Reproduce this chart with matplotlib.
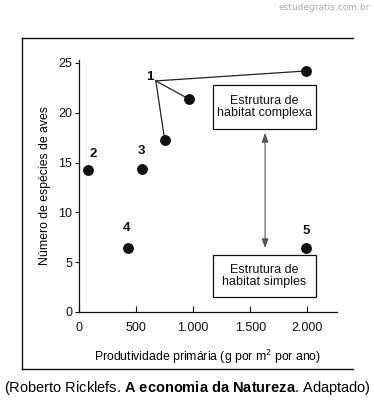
import matplotlib
matplotlib.use("Agg")
import matplotlib.pyplot as plt
from matplotlib.lines import Line2D
from matplotlib.patches import Rectangle

plt.rcParams['font.family'] = ['Liberation Sans', 'DejaVu Sans']
plt.rcParams['mathtext.fontset'] = 'custom'
plt.rcParams['mathtext.rm'] = 'Liberation Sans'
plt.rcParams['mathtext.bf'] = 'Liberation Sans:bold'
plt.rcParams['mathtext.it'] = 'Liberation Sans:italic'

# Data
prod = [1990, 960, 750, 76, 548, 425, 1985]
species = [24.2, 21.4, 17.3, 14.3, 14.35, 6.4, 6.45]
labels = ['1', '2', '3', '4', '5']
label_pos_x = [620, 123, 544, 420, 1990]
label_pos_y = [23.6, 15.3, 15.6, 7.8, 7.5]
vertex = (673, 23.2)
group1_idx = [0, 1, 2]
xticks = [0, 500, 1000, 1500, 2000]
xticklabels = ['0', '500', '1.000', '1.500', '2.000']
yticks = [0, 5, 10, 15, 20, 25]

fig = plt.figure(figsize=(3.74, 4.05), dpi=100)
ax = fig.add_axes([79/374, 1-312/405, (337-79)/374, (312-60)/405])
ax.set_xlim(0, 2260)
ax.set_ylim(0, 25.3)

for i in group1_idx:
    ax.plot([vertex[0], prod[i]], [vertex[1], species[i]], color='#222222', lw=0.9, zorder=2)
ax.plot(prod, species, 'o', color='#111111', ms=6.8, zorder=3, clip_on=False)

for t, x, y in zip(labels, label_pos_x, label_pos_y):
    ax.text(x, y, t, fontsize=9.5, fontweight='bold', ha='center',
            va='bottom' if t != '1' else 'center', color='#111111')

# boxes
def box(x0, x1, y0, y1, text):
    ax.add_patch(Rectangle((x0, y0), x1 - x0, y1 - y0, fc='white', ec='#111111', lw=0.9, zorder=4))
    ax.text((x0 + x1) / 2, (y0 + y1) / 2, text, ha='center', va='center', fontsize=9,
            linespacing=1.05, zorder=5, color='#111111')

box(1175, 2075, 18.4, 22.8, 'Estrutura de\nhabitat complexa')
box(1175, 2075, 1.5, 5.75, 'Estrutura de\nhabitat simples')
ax.annotate('', xy=(1630, 18.0), xytext=(1630, 6.4),
            arrowprops=dict(arrowstyle='<|-|>,head_length=0.7,head_width=0.25', color='#555555', lw=0.8,
                            mutation_scale=8, shrinkA=0, shrinkB=0))

for s in ['top', 'right']:
    ax.spines[s].set_visible(False)
for s in ['left', 'bottom']:
    ax.spines[s].set_linewidth(0.9)
    ax.spines[s].set_color('#111111')
ax.set_xticks(xticks)
ax.set_xticklabels(xticklabels)
ax.set_yticks(yticks)
ax.tick_params(axis='x', direction='in', length=4, labelsize=9, pad=7, colors='#111111')
ax.tick_params(axis='y', direction='out', length=3, labelsize=9, pad=2, colors='#111111')
ax.set_xlabel('Produtividade primária (g por m$^{2}$ por ano)', fontsize=8.8, labelpad=10)
ax.set_ylabel('Número de espécies de aves', fontsize=8.8, labelpad=5)

# outer frame (left, top, bottom)
fx0, fx1 = 22/374, 353/374
fy_top, fy_bot = 1-38/405, 1-369/405
for xs, ys in [([fx0, fx1], [fy_top, fy_top]), ([fx0, fx1], [fy_bot, fy_bot]), ([fx0, fx0], [fy_bot, fy_top])]:
    fig.add_artist(Line2D(xs, ys, transform=fig.transFigure, color='#111111', lw=1.0))

fig.text(0.5, 1-388/405, '(Roberto Ricklefs. $\\mathbf{A\\ economia\\ da\\ Natureza}$. Adaptado)',
         ha='center', va='center', fontsize=10.5)
fig.text(370/374, 1-8/405, 'estudegratis.com.br', ha='right', va='center', fontsize=6.5,
         color='#aaaaaa', family='DejaVu Sans')

fig.savefig('out.png', dpi=100, facecolor='white')
